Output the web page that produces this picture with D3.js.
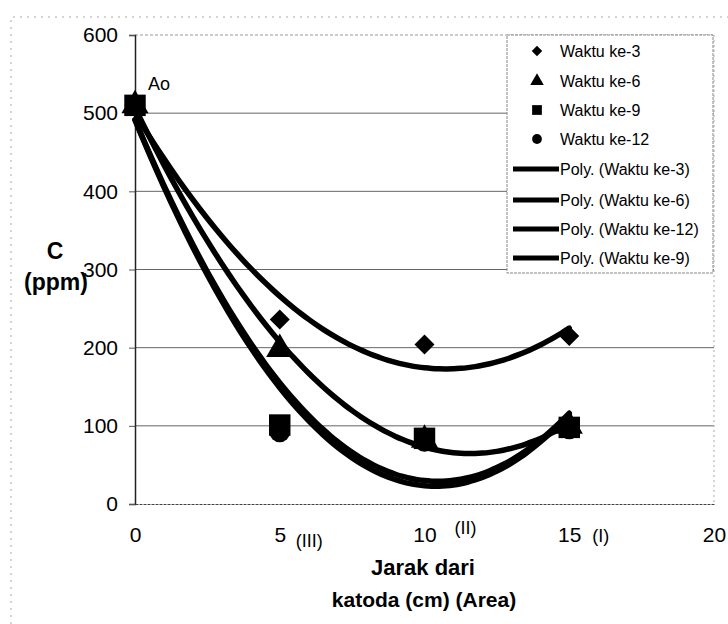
<!DOCTYPE html>
<html lang="id">
<head>
  <meta charset="utf-8"/>
  <title>Konsentrasi vs Jarak dari katoda</title>
  <style>
    body { margin: 0; background: #fff; }
    svg text { font-family: "Liberation Sans", Arial, sans-serif; fill: #000; }
  </style>
</head>
<body>
<div id="chart"></div>

<script src="https://cdn.jsdelivr.net/npm/d3@7/dist/d3.min.js"></script>
<script>

  // data
  let distance = [0, 5, 10, 15];
  let waktu3 = [510, 236, 204, 215];
  let waktu6 = [510, 198, 82, 100];
  let waktu9 = [510, 101, 84, 98];
  let waktu12 = [510, 92, 80, 96];

  let xTicks = [0, 5, 10, 15, 20];
  let areaLabels = ['', '(III)', '(II)', '(I)', ''];
  let yTicks = [0, 100, 200, 300, 400, 500, 600];

  let series = [
    {name: 'Waktu ke-3', values: waktu3, symbol: d3.symbolSquare, rotate: 45},
    {name: 'Waktu ke-6', values: waktu6, symbol: d3.symbolTriangle, rotate: 0},
    {name: 'Waktu ke-9', values: waktu9, symbol: d3.symbolSquare, rotate: 0},
    {name: 'Waktu ke-12', values: waktu12, symbol: d3.symbolCircle, rotate: 0}
  ];
  // legend order of the trend lines as in the original
  let trendOrder = ['Waktu ke-3', 'Waktu ke-6', 'Waktu ke-12', 'Waktu ke-9'];

  let width = 728, height = 624;

  let svg = d3.select('#chart')
    .append('svg')
    .attr('width', width)
    .attr('height', height);

  let x = d3.scaleLinear().domain([0, 20]).range([135, 714]);
  let y = d3.scaleLinear().domain([0, 600]).range([504, 35]);

  // outer chart frame (light dotted, like the scan)
  svg.append('path')
    .attr('d', `M11,${height} V17 H${width}`)
    .attr('fill', 'none')
    .attr('stroke', '#aaa')
    .attr('stroke-dasharray', '2,5');

  // horizontal gridlines
  svg.append('g')
    .selectAll('line')
    .data(yTicks.filter(d => d > 0))
    .join('line')
    .attr('x1', x(0))
    .attr('x2', x(20))
    .attr('y1', d => y(d))
    .attr('y2', d => y(d))
    .attr('stroke', d => d === 600 ? '#999' : '#666')
    .attr('stroke-dasharray', d => d === 600 ? '3,2' : null)
    .attr('stroke-width', 1);

  // right border of plot area
  svg.append('line')
    .attr('x1', x(20)).attr('x2', x(20))
    .attr('y1', y(600)).attr('y2', y(0))
    .attr('stroke', '#aaa')
    .attr('stroke-dasharray', '2,3');

  // y axis
  let yAxis = d3.axisLeft(y).tickValues(yTicks).tickSize(6).tickPadding(11);
  svg.append('g')
    .attr('transform', `translate(${x(0)},0)`)
    .call(yAxis)
    .call(g => g.select('.domain').attr('stroke', '#222').attr('stroke-width', 1.5))
    .call(g => g.selectAll('.tick line').attr('stroke', '#555'))
    .call(g => g.selectAll('.tick text')
      .attr('font-size', 21)
      .attr('font-family', '"Liberation Sans", Arial, sans-serif'));

  // x axis
  let xAxis = d3.axisBottom(x).tickValues(xTicks).tickSize(0).tickPadding(23);
  svg.append('g')
    .attr('transform', `translate(0,${y(0)})`)
    .call(xAxis)
    .call(g => g.select('.domain').attr('stroke', '#444').attr('stroke-dasharray', '3,1'))
    .call(g => g.selectAll('.tick text')
      .attr('font-size', 21)
      .attr('font-family', '"Liberation Sans", Arial, sans-serif'));

  // area labels next to the tick numbers
  let areaDx = [0, 16, 30, 23, 0];
  let areaDy = [0, 43, 30, 38, 0];
  svg.append('g')
    .selectAll('text')
    .data(xTicks.map((t, i) => ({t: t, label: areaLabels[i], i: i})).filter(d => d.label))
    .join('text')
    .attr('x', d => x(d.t) + areaDx[d.i])
    .attr('y', d => y(0) + areaDy[d.i])
    .attr('font-size', 18)
    .text(d => d.label);

  // axis titles
  svg.append('text')
    .attr('x', 55).attr('y', 259)
    .attr('text-anchor', 'middle')
    .attr('font-size', 23).attr('font-weight', 'bold')
    .text('C');
  svg.append('text')
    .attr('x', 56).attr('y', 290)
    .attr('text-anchor', 'middle')
    .attr('font-size', 23).attr('font-weight', 'bold')
    .text('(ppm)');

  svg.append('text')
    .attr('x', 423).attr('y', 575)
    .attr('text-anchor', 'middle')
    .attr('font-size', 22).attr('font-weight', 'bold')
    .text('Jarak dari');
  svg.append('text')
    .attr('x', 424).attr('y', 607)
    .attr('text-anchor', 'middle')
    .attr('font-size', 21).attr('font-weight', 'bold')
    .text('katoda (cm) (Area)');

  // polynomial (order 2) trend line fitted to each series, like Excel
  function fitQuadratic(xs, ys) {
    let n = xs.length;
    let s = [0, 0, 0, 0, 0], t = [0, 0, 0];
    for (let i = 0; i < n; i++) {
      for (let k = 0; k <= 4; k++) s[k] += Math.pow(xs[i], k);
      for (let k = 0; k <= 2; k++) t[k] += ys[i] * Math.pow(xs[i], k);
    }
    let m = [
      [s[0], s[1], s[2], t[0]],
      [s[1], s[2], s[3], t[1]],
      [s[2], s[3], s[4], t[2]]
    ];
    for (let c = 0; c < 3; c++) {
      for (let r = c + 1; r < 3; r++) {
        let f = m[r][c] / m[c][c];
        for (let k = c; k < 4; k++) m[r][k] -= f * m[c][k];
      }
    }
    let coef = [0, 0, 0];
    for (let r = 2; r >= 0; r--) {
      let v = m[r][3];
      for (let k = r + 1; k < 3; k++) v -= m[r][k] * coef[k];
      coef[r] = v / m[r][r];
    }
    return xv => coef[0] + coef[1] * xv + coef[2] * xv * xv;
  }

  let line = d3.line()
    .x(d => x(d[0]))
    .y(d => y(d[1]))
    .curve(d3.curveBasis);

  let xs = d3.range(0, 15.01, 0.25);
  series.forEach(function (s) {
    let f = fitQuadratic(distance, s.values);
    svg.append('path')
      .datum(xs.map(v => [v, f(v)]))
      .attr('d', line)
      .attr('fill', 'none')
      .attr('stroke', '#000')
      .attr('stroke-width', 5.5)
      .attr('stroke-linecap', 'round');
  });

  // markers
  let markerSize = {
    'Waktu ke-3': 200,
    'Waktu ke-6': 320,
    'Waktu ke-9': 460,
    'Waktu ke-12': 330
  };
  series.forEach(function (s) {
    svg.append('g')
      .selectAll('path')
      .data(s.values.map((v, i) => [distance[i], v]))
      .join('path')
      .attr('transform', d => `translate(${x(d[0])},${y(d[1])}) rotate(${s.rotate})`)
      .attr('d', d3.symbol().type(s.symbol).size(markerSize[s.name]))
      .attr('fill', '#000');
  });

  svg.append('text')
    .attr('x', 148).attr('y', 90)
    .attr('font-size', 18)
    .text('Ao');

  // legend
  let legend = svg.append('g');
  legend.append('rect')
    .attr('x', 507).attr('y', 35)
    .attr('width', 206).attr('height', 238)
    .attr('fill', '#fff')
    .attr('stroke', '#888')
    .attr('stroke-dasharray', '3,1');

  let rowY = [51, 81, 110, 139, 169, 200, 229, 258];
  let legendSize = {
    'Waktu ke-3': 55,
    'Waktu ke-6': 80,
    'Waktu ke-9': 95,
    'Waktu ke-12': 75
  };

  series.forEach(function (s, i) {
    legend.append('path')
      .attr('transform', `translate(537,${rowY[i]}) rotate(${s.rotate})`)
      .attr('d', d3.symbol().type(s.symbol).size(legendSize[s.name]))
      .attr('fill', '#000');
    legend.append('text')
      .attr('x', 560).attr('y', rowY[i] + 6)
      .attr('font-size', 16)
      .text(s.name);
  });

  trendOrder.forEach(function (name, i) {
    let ry = rowY[4 + i];
    legend.append('line')
      .attr('x1', 513).attr('x2', 559)
      .attr('y1', ry).attr('y2', ry)
      .attr('stroke', '#000')
      .attr('stroke-width', 5);
    legend.append('text')
      .attr('x', 560).attr('y', ry + 6)
      .attr('font-size', 16)
      .text(`Poly. (${name})`);
  });

</script>
</body>
</html>
